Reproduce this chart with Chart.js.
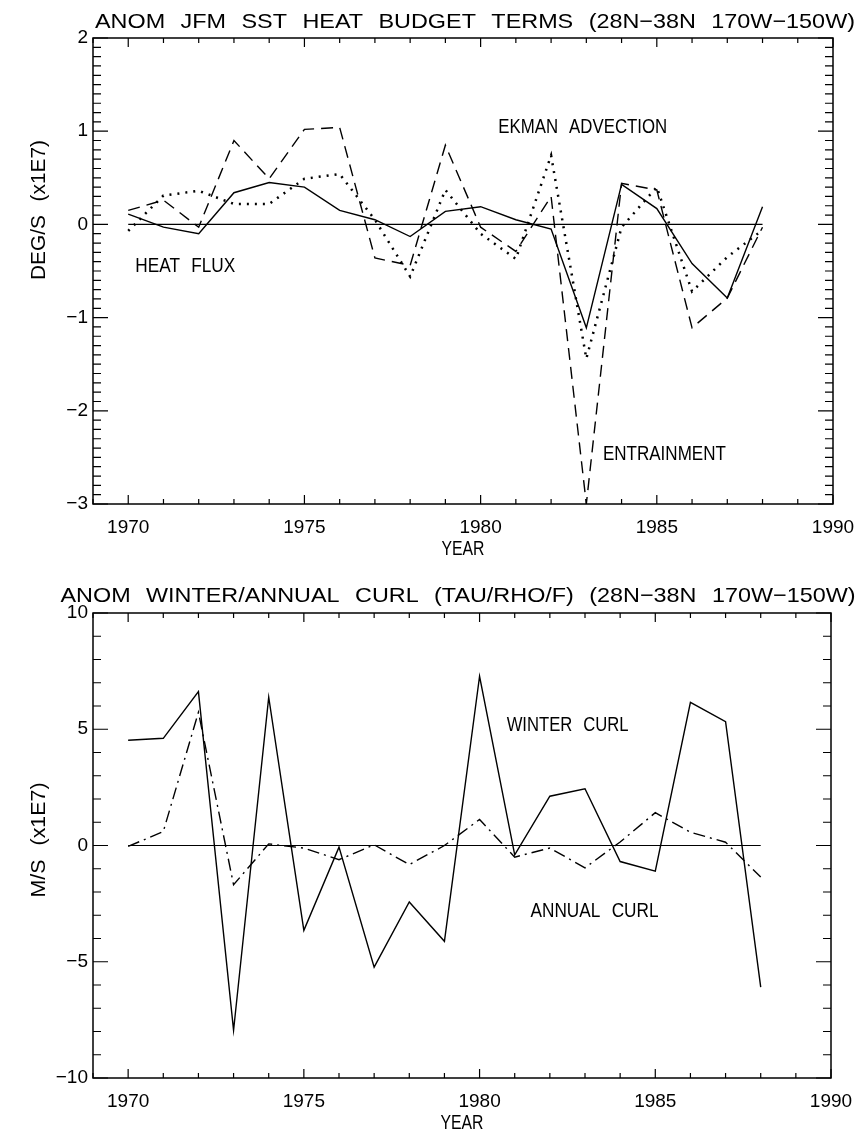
<!DOCTYPE html>
<html>
<head>
<meta charset="utf-8">
<script src="https://cdn.jsdelivr.net/npm/chart.js@4.4.1/dist/chart.umd.min.js"></script>
<style>
  html, body { margin: 0; padding: 0; background: #fff; }
  canvas { display: block; }
</style>
</head>
<body>
<canvas id="budgetChart" width="868" height="566"></canvas>
<canvas id="curlChart" width="868" height="567"></canvas>
<script>
// values, one per year
const years = [1970, 1971, 1972, 1973, 1974, 1975, 1976, 1977, 1978, 1979,
               1980, 1981, 1982, 1983, 1984, 1985, 1986, 1987, 1988];
const heatFlux    = [0.11, -0.03, -0.10, 0.34, 0.45, 0.40, 0.15, 0.05, -0.13, 0.14,
                     0.19, 0.05, -0.05, -1.11, 0.43, 0.17, -0.42, -0.79, 0.19];
const entrainment = [0.15, 0.26, -0.03, 0.90, 0.49, 1.02, 1.04, -0.36, -0.44, 0.85,
                     -0.03, -0.29, 0.30, -3.00, 0.44, 0.37, -1.11, -0.79, -0.03];
const ekman       = [-0.07, 0.31, 0.36, 0.22, 0.22, 0.49, 0.54, 0.05, -0.56, 0.37,
                     -0.10, -0.37, 0.74, -1.44, -0.03, 0.40, -0.72, -0.35, -0.06];
const winterCurl  = [4.53, 4.61, 6.62, -7.95, 6.38, -3.65, -0.07, -5.23, -2.43, -4.12,
                     7.28, -0.40, 2.12, 2.44, -0.69, -1.10, 6.16, 5.33, -6.09];
const annualCurl  = [-0.04, 0.60, 5.73, -1.69, 0.07, -0.11, -0.61, 0.03, -0.82, 0.00,
                     1.12, -0.50, -0.11, -0.96, 0.15, 1.41, 0.57, 0.14, -1.36];

const yearTicks = [1970, 1975, 1980, 1985, 1990];
const budgetTicks = [-3, -2, -1, 0, 1, 2];
const curlTicks = [-10, -5, 0, 5, 10];

const TEXT_FONT = "21px 'Liberation Sans', Arial, sans-serif";
const TICK_FONT = { family: "'Liberation Sans', Arial, sans-serif", size: 19 };

const pts = (arr) => years.map((x, i) => ({ x, y: arr[i] }));
const minus = (v) => (v < 0 ? '\u2212' + Math.abs(v) : String(v));

// squeeze/stretch a string to a given width
function fitText(ctx, text, x, y, width, align) {
  ctx.save();
  const w = ctx.measureText(text).width;
  ctx.translate(x, y);
  ctx.scale(width ? width / w : 1, 1);
  ctx.textAlign = align || 'left';
  ctx.fillText(text, 0, 0);
  ctx.restore();
}

// box, inward ticks, titles and curve names
const framePlugin = {
  id: 'frame',
  afterDraw(chart, args, opts) {
    const ctx = chart.ctx;
    const a = chart.chartArea;
    const xs = chart.scales.x, ys = chart.scales.y;
    ctx.save();
    ctx.strokeStyle = '#000';
    ctx.fillStyle = '#000';
    ctx.lineWidth = 1.5;
    ctx.strokeRect(a.left, a.top, a.right - a.left, a.bottom - a.top);

    ctx.lineWidth = 1.2;
    ctx.beginPath();
    for (let v = xs.min; v <= xs.max; v++) {
      const px = xs.getPixelForValue(v);
      const len = v % 5 === 0 ? 9 : 5;
      ctx.moveTo(px, a.bottom); ctx.lineTo(px, a.bottom - len);
      ctx.moveTo(px, a.top); ctx.lineTo(px, a.top + len);
    }
    const n0 = Math.round(ys.min / opts.minorY), n1 = Math.round(ys.max / opts.minorY);
    for (let i = n0; i <= n1; i++) {
      const v = i * opts.minorY;
      const py = ys.getPixelForValue(v);
      const len = Math.abs(v / opts.majorY - Math.round(v / opts.majorY)) < 1e-6 ? 15 : 8;
      ctx.moveTo(a.left, py); ctx.lineTo(a.left + len, py);
      ctx.moveTo(a.right, py); ctx.lineTo(a.right - len, py);
    }
    ctx.stroke();

    ctx.font = TEXT_FONT;
    ctx.textBaseline = 'alphabetic';
    ctx.wordSpacing = '8px';
    fitText(ctx, opts.title, opts.titleX, opts.titleY, opts.titleW, 'center');
    fitText(ctx, 'YEAR', (a.left + a.right) / 2, a.bottom + 51, 43, 'center');

    ctx.save();
    ctx.translate(45, opts.yTitleY);
    ctx.rotate(-Math.PI / 2);
    fitText(ctx, opts.yTitle, 0, 0, opts.yTitleW, 'center');
    ctx.restore();

    opts.notes.forEach((n) => {
      fitText(ctx, n.text, xs.getPixelForValue(n.x), ys.getPixelForValue(n.y), n.w, 'left');
    });
    ctx.restore();
  }
};

function lineSet(data, dash, width) {
  return {
    data: pts(data),
    borderColor: '#000',
    borderWidth: width || 1.4,
    borderDash: dash || [],
    pointRadius: 0,
    tension: 0,
    fill: false
  };
}

function makeChart(id, datasets, yMin, yMax, yTicks, pad, xHeight, frame) {
  return new Chart(id, {
    type: 'line',
    data: { datasets },
    plugins: [framePlugin],
    options: {
      responsive: false,
      animation: false,
      layout: { padding: pad },
      plugins: { legend: { display: false }, tooltip: { enabled: false }, frame },
      scales: {
        x: {
          type: 'linear', min: 1969, max: 1990,
          afterBuildTicks: (s) => { s.ticks = yearTicks.map((value) => ({ value })); },
          afterFit: (s) => { s.height = xHeight; },
          ticks: { callback: (v) => String(v), font: TICK_FONT, color: '#000', padding: 12, maxRotation: 0, autoSkip: false },
          grid: { display: false, drawTicks: false },
          border: { display: false }
        },
        y: {
          min: yMin, max: yMax,
          afterBuildTicks: (s) => { s.ticks = yTicks.map((value) => ({ value })); },
          afterFit: (s) => { s.width = 93; },
          ticks: { callback: minus, font: TICK_FONT, color: '#000', padding: 5 },
          grid: { display: false, drawTicks: false },
          border: { display: false }
        }
      }
    }
  });
}

makeChart('budgetChart', [
  lineSet(years.map(() => 0), [], 1.2),
  lineSet(heatFlux),
  lineSet(entrainment, [12, 7]),
  lineSet(ekman, [2, 6], 2.5)
], -3, 2, budgetTicks, { top: 38, right: 35, left: 0, bottom: 0 }, 62, {
  title: 'ANOM JFM SST HEAT BUDGET TERMS (28N\u221238N 170W\u2212150W)',
  titleX: 475, titleY: 28, titleW: 760,
  yTitle: 'DEG/S (x1E7)', yTitleY: 210, yTitleW: 140,
  minorY: 0.1, majorY: 1,
  notes: [
    { text: 'HEAT FLUX', x: 1970.2, y: -0.51, w: 100 },
    { text: 'EKMAN ADVECTION', x: 1980.5, y: 0.98, w: 169 },
    { text: 'ENTRAINMENT', x: 1983.47, y: -2.53, w: 123 }
  ]
});

makeChart('curlChart', [
  lineSet(years.map(() => 0), [], 1.2),
  lineSet(winterCurl),
  lineSet(annualCurl, [12, 5, 2, 5])
], -10, 10, curlTicks, { top: 47, right: 37, left: 0, bottom: 0 }, 55, {
  title: 'ANOM WINTER/ANNUAL CURL (TAU/RHO/F) (28N\u221238N 170W\u2212150W)',
  titleX: 458, titleY: 36, titleW: 795,
  yTitle: 'M/S (x1E7)', yTitleY: 274, yTitleW: 115,
  minorY: 1, majorY: 5,
  notes: [
    { text: 'WINTER CURL', x: 1980.77, y: 4.93, w: 122 },
    { text: 'ANNUAL CURL', x: 1981.45, y: -3.06, w: 128 }
  ]
});
</script>
</body>
</html>
